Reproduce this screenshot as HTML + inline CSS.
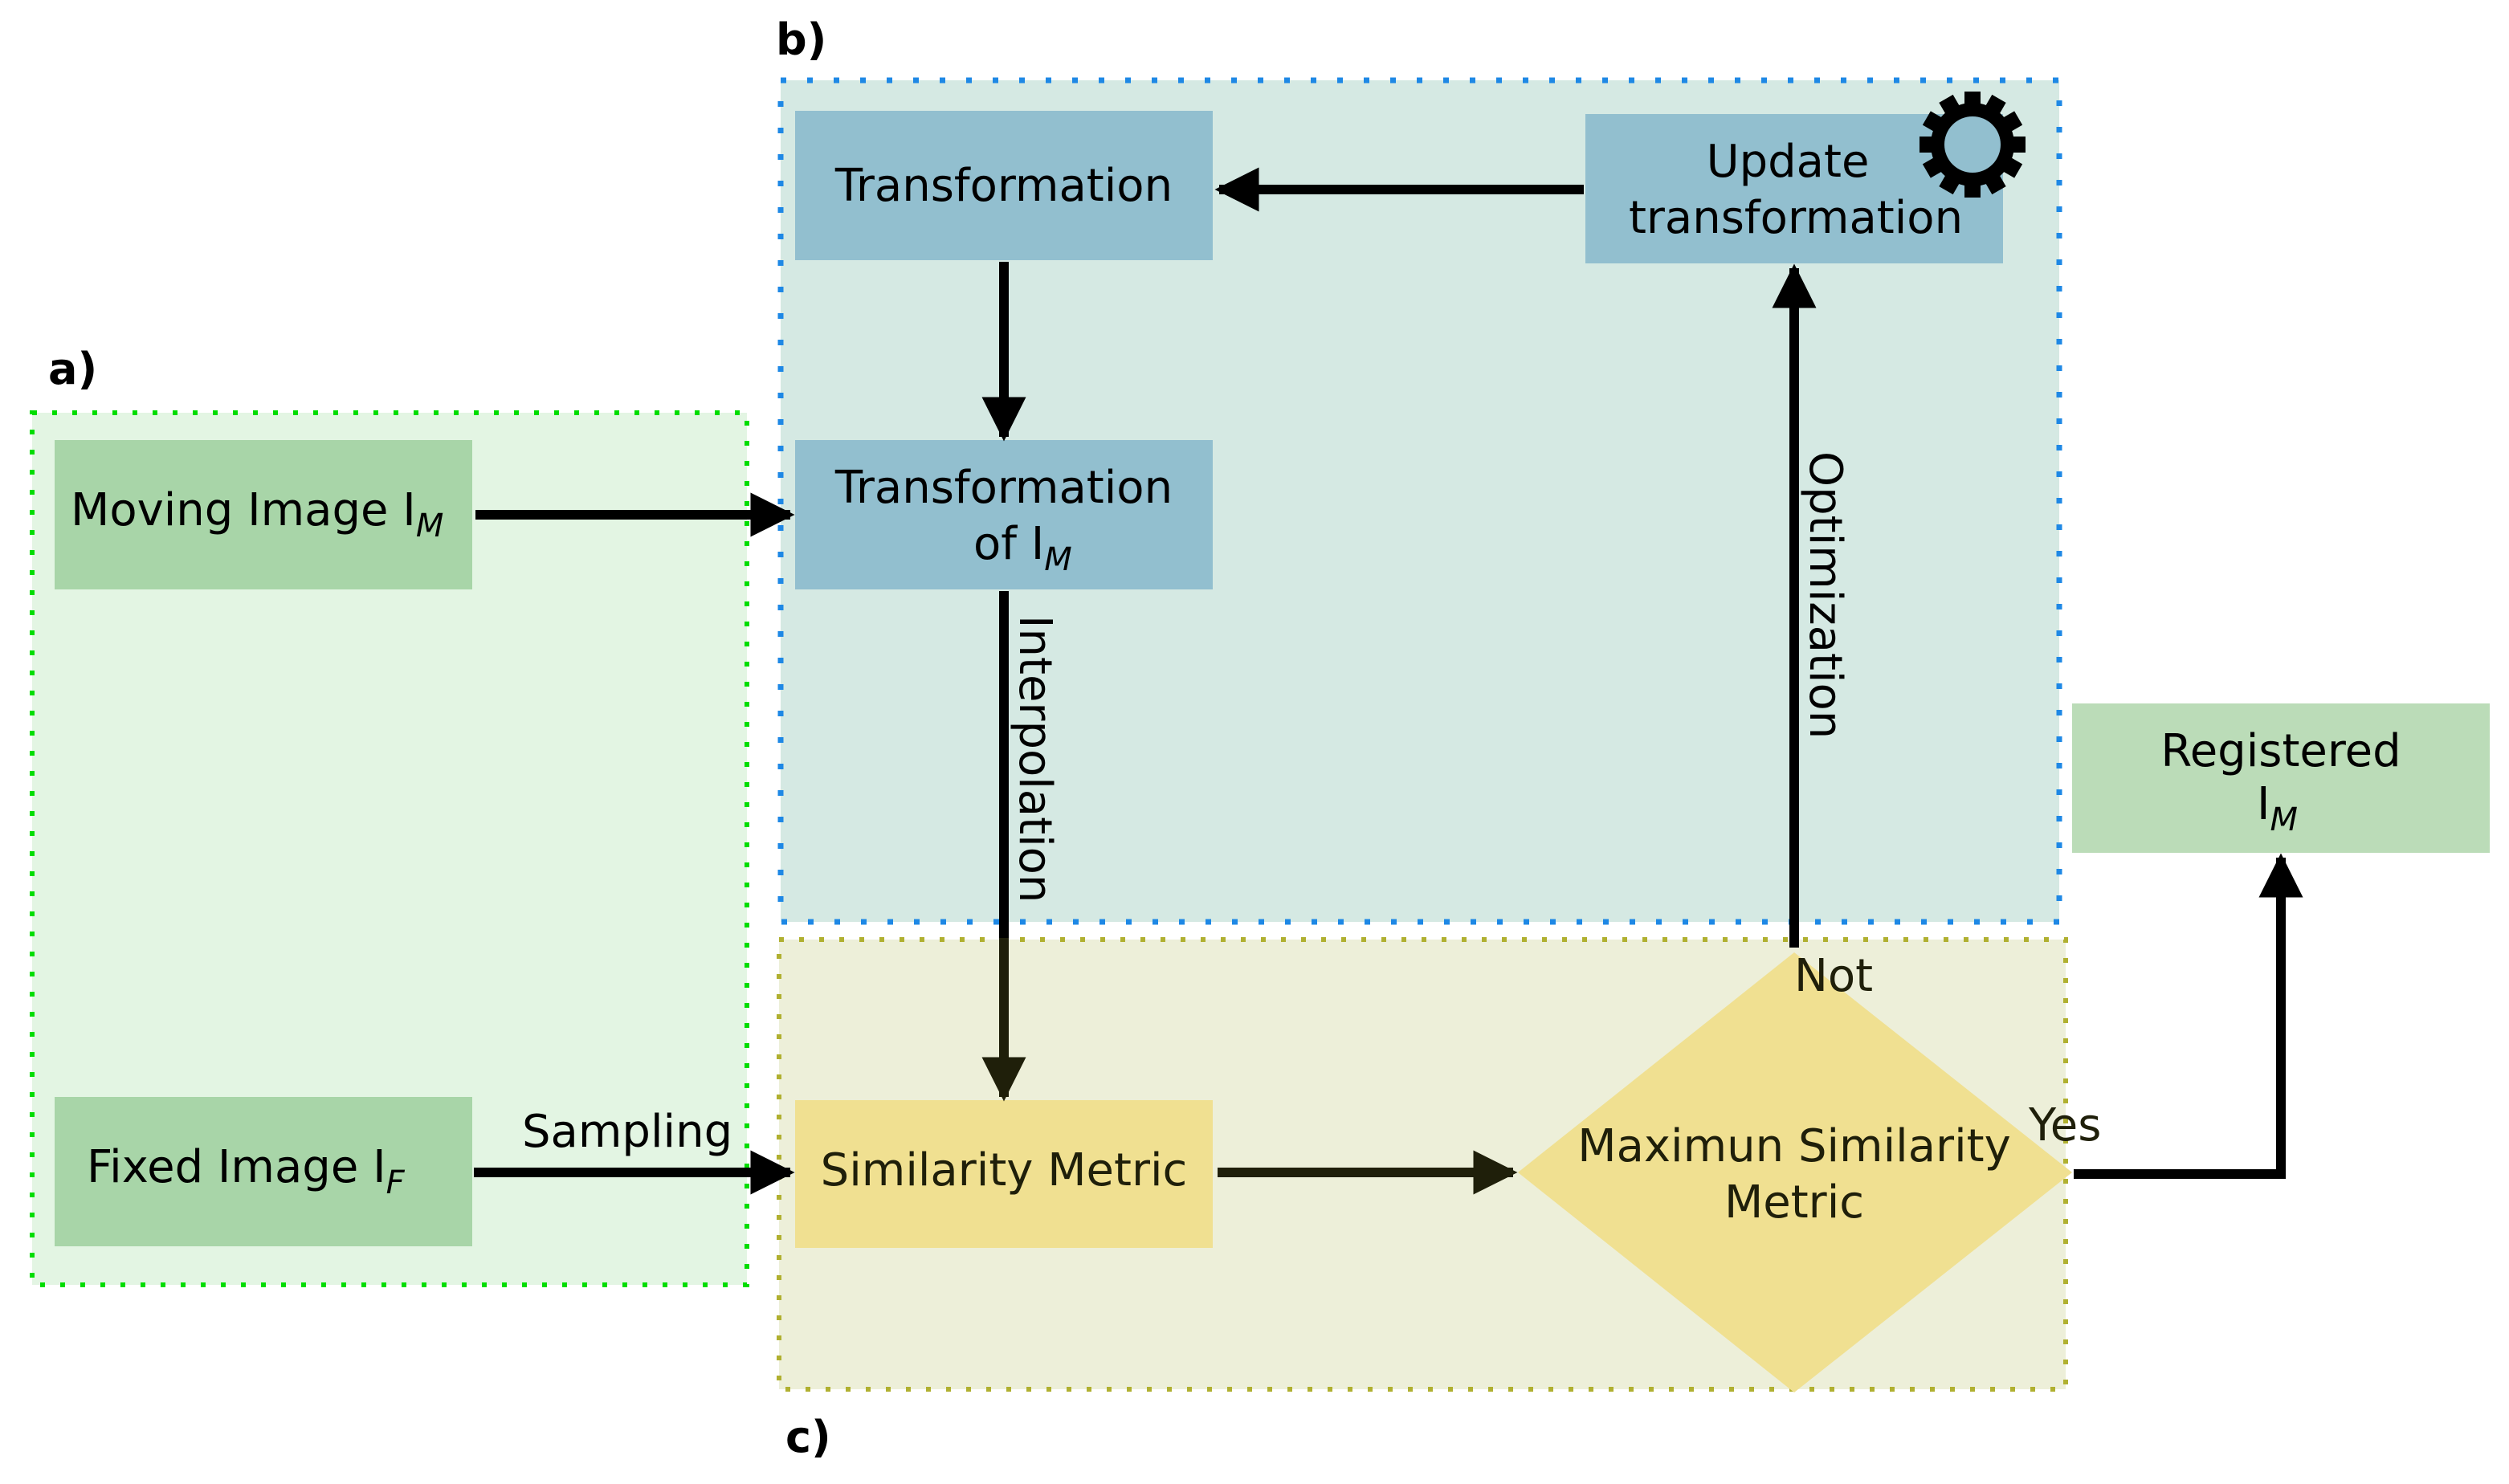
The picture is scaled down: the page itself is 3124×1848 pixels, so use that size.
<!DOCTYPE html>
<html><head><style>body{margin:0;background:#fff}svg{display:block}</style></head><body>
<svg width="3124" height="1848" viewBox="0 0 3124 1848" xmlns="http://www.w3.org/2000/svg" font-family="DejaVu Sans, Liberation Sans, sans-serif">
<defs>
<marker id="ah" viewBox="0 0 10 10" refX="9" refY="5" markerWidth="4.6" markerHeight="4.6" orient="auto" markerUnits="strokeWidth"><path d="M0,0L10,5L0,10z" fill="#000"/></marker>
<marker id="ah2" viewBox="0 0 10 10" refX="9" refY="5" markerWidth="4.6" markerHeight="4.6" orient="auto" markerUnits="strokeWidth"><path d="M0,0L10,5L0,10z" fill="#1f1f0a"/></marker>
</defs>
<rect x="0" y="0" width="3124" height="1848" fill="#fff"/>
<rect x="40" y="514" width="890" height="1086" fill="#e3f5e3" stroke="#00dd00" stroke-width="6" stroke-dasharray="6 19"/>
<rect x="972" y="100" width="1592" height="1048" fill="#d5e9e3" stroke="#1e88e5" stroke-width="7" stroke-dasharray="7 26"/>
<rect x="970" y="1170" width="1602" height="560" fill="#edefd9" stroke="#b0b030" stroke-width="6" stroke-dasharray="6 19"/>
<text x="966" y="68" font-size="54" font-weight="bold">b)</text>
<text x="60" y="478" font-size="54" font-weight="bold">a)</text>
<text x="978" y="1808" font-size="54" font-weight="bold">c)</text>
<rect x="68" y="548" width="520" height="186" fill="#a8d5a8"/>
<text x="88" y="654" font-size="56">Moving Image I<tspan font-size="40" font-style="italic" dy="14">M</tspan></text>
<rect x="68" y="1366" width="520" height="186" fill="#a8d5a8"/>
<text x="108" y="1472" font-size="56">Fixed Image I<tspan font-size="40" font-style="italic" dy="14">F</tspan></text>
<rect x="990" y="138" width="520" height="186" fill="#92bfcf"/>
<text x="1250" y="250" font-size="56" text-anchor="middle">Transformation</text>
<rect x="1974" y="142" width="520" height="186" fill="#92bfcf"/>
<text x="2226" y="220" font-size="56" text-anchor="middle">Update</text>
<text x="2236" y="290" font-size="56" text-anchor="middle">transformation</text>
<rect x="990" y="548" width="520" height="186" fill="#92bfcf"/>
<text x="1250" y="626" font-size="56" text-anchor="middle">Transformation</text>
<text x="1212" y="696" font-size="56">of I<tspan font-size="40" font-style="italic" dy="14">M</tspan></text>
<g transform="translate(2456,180)">
<g fill="#000">
<circle r="52"/>
<rect x="-10" y="-66" width="20" height="28"/><rect x="-10" y="-66" width="20" height="28" transform="rotate(30)"/><rect x="-10" y="-66" width="20" height="28" transform="rotate(60)"/><rect x="-10" y="-66" width="20" height="28" transform="rotate(90)"/><rect x="-10" y="-66" width="20" height="28" transform="rotate(120)"/><rect x="-10" y="-66" width="20" height="28" transform="rotate(150)"/><rect x="-10" y="-66" width="20" height="28" transform="rotate(180)"/><rect x="-10" y="-66" width="20" height="28" transform="rotate(210)"/><rect x="-10" y="-66" width="20" height="28" transform="rotate(240)"/><rect x="-10" y="-66" width="20" height="28" transform="rotate(270)"/><rect x="-10" y="-66" width="20" height="28" transform="rotate(300)"/><rect x="-10" y="-66" width="20" height="28" transform="rotate(330)"/>
</g>
<circle r="35" fill="#92bfcf"/>
</g>
<rect x="2580" y="876" width="520" height="186" fill="#bbdcb8"/>
<text x="2840" y="954" font-size="56" text-anchor="middle">Registered</text>
<text x="2810" y="1020" font-size="56">I<tspan font-size="40" font-style="italic" dy="14">M</tspan></text>
<rect x="990" y="1370" width="520" height="184" fill="#f0e091"/>
<text x="1250" y="1476" font-size="56" text-anchor="middle" fill="#1f1f0a">Similarity Metric</text>
<polygon points="1890,1460 2234,1186 2580,1460 2234,1734" fill="#f0e091"/>
<text x="2234" y="1446" font-size="56" text-anchor="middle" fill="#1f1f0a">Maximun Similarity</text>
<text x="2234" y="1516" font-size="56" text-anchor="middle" fill="#1f1f0a">Metric</text>
<g stroke="#000" stroke-width="12" fill="none">
<line x1="592" y1="641" x2="984" y2="641" marker-end="url(#ah)"/>
<line x1="1250" y1="326" x2="1250" y2="544" marker-end="url(#ah)"/>
<line x1="1972" y1="236" x2="1518" y2="236" marker-end="url(#ah)"/>
<line x1="1250" y1="736" x2="1250" y2="1170"/>
<line x1="590" y1="1460" x2="984" y2="1460" marker-end="url(#ah)"/>
<line x1="2234" y1="1180" x2="2234" y2="334" marker-end="url(#ah)"/>
<polyline points="2582,1462 2840,1462 2840,1068" marker-end="url(#ah)"/>
</g>
<line x1="1250" y1="1168" x2="1250" y2="1366" stroke="#1f1f0a" stroke-width="12" marker-end="url(#ah2)"/>
<line x1="1516" y1="1460" x2="1884" y2="1460" stroke="#1f1f0a" stroke-width="12" marker-end="url(#ah2)"/>
<text x="650" y="1428" font-size="56">Sampling</text>
<text x="2234" y="1234" font-size="56" fill="#1f1f0a">Not</text>
<text x="2526" y="1420" font-size="56" fill="#1f1f0a">Yes</text>
<text transform="translate(1270,766) rotate(90)" font-size="56">Interpolation</text>
<text transform="translate(2254,562) rotate(90)" font-size="56">Optimization</text>
</svg>
</body></html>
